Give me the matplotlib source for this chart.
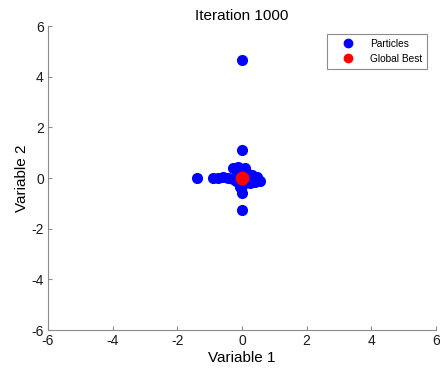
import matplotlib
matplotlib.use("Agg")
import matplotlib.pyplot as plt

plt.rcParams['font.family'] = ['Liberation Sans', 'DejaVu Sans']
plt.rcParams['axes.unicode_minus'] = False

# particle positions
px = [0.0, 0.0, -1.4, 0.0, -0.9, -0.74, -0.59, -0.43, -0.28, -0.12, 0.1,
      -0.28, -0.06, 0.0, 0.25, 0.46, 0.55, 0.4, 0.15, -0.15, 0.05, 0.3,
      -0.05, 0.0, 0.2, -0.2]
py = [4.65, 1.1, 0.0, -1.25, 0.0, 0.0, 0.05, 0.0, 0.4, 0.43, 0.4,
      -0.05, -0.35, -0.6, -0.2, 0.05, -0.1, -0.15, 0.2, 0.15, -0.2, 0.1,
      0.1, -0.3, 0.0, -0.1]
best_x = [0.0]
best_y = [0.0]

fig = plt.figure(figsize=(4.4, 3.69), dpi=100)
ax = fig.add_axes([48/440, 1 - 330/369, 388/440, 304/369])

ax.plot(px, py, 'o', color='#0000ff', markersize=7, label='Particles')
ax.plot(best_x, best_y, 'o', color='#ff0000', markersize=9, label='Global Best')

ax.set_xlim(-6, 6)
ax.set_ylim(-6, 6)
ax.set_xticks(range(-6, 7, 2))
ax.set_yticks(range(-6, 7, 2))
ax.set_title('Iteration 1000', fontsize=11, pad=4)
ax.set_xlabel('Variable 1', fontsize=11, labelpad=2)
ax.set_ylabel('Variable 2', fontsize=11, labelpad=2)

for s in ['top', 'right']:
    ax.spines[s].set_visible(False)
for s in ['left', 'bottom']:
    ax.spines[s].set_color('#8c8c8c')
    ax.spines[s].set_linewidth(0.8)
ax.tick_params(direction='in', length=3, color='#8c8c8c', labelsize=10,
               labelcolor='#1a1a1a', pad=3)

leg = ax.legend(loc='upper right', bbox_to_anchor=(0.977, 0.974),
                borderaxespad=0, fontsize=7.3,
                fancybox=False, framealpha=1, edgecolor='#8c8c8c',
                borderpad=0.5, handletextpad=0.55, labelspacing=0.45,
                handlelength=3.2)
leg.get_frame().set_linewidth(0.8)
for h in leg.legend_handles:
    h.set_markersize(6)

fig.savefig('out.png', dpi=100)
